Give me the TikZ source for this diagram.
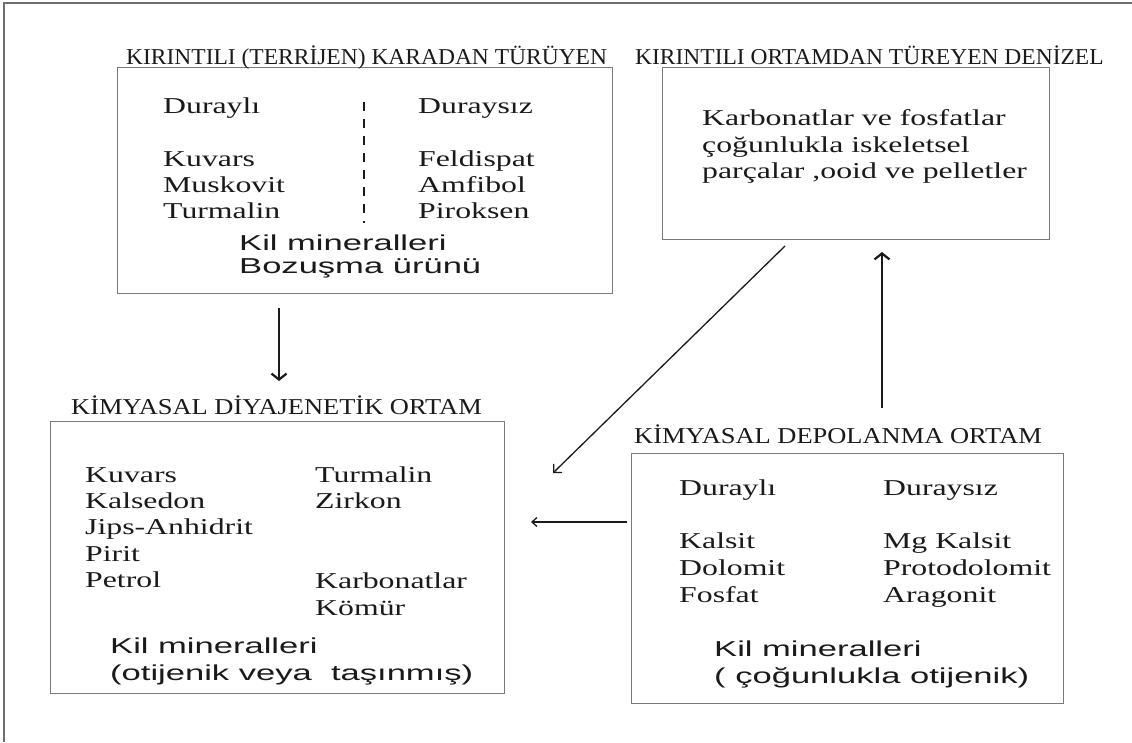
\documentclass[tikz,border=0pt]{standalone}
\usepackage{fontspec}
\usepackage{graphicx}
\setmainfont{Liberation Serif}
\newfontfamily\bodyf[FakeStretch=1.4]{Liberation Serif}
\newfontfamily\sansf[FakeStretch=1.6]{Liberation Sans}
\newfontfamily\titA[FakeStretch=1.035]{Liberation Serif}
\newfontfamily\titB[FakeStretch=1.165]{Liberation Serif}
\usetikzlibrary{arrows.meta}
\definecolor{boxgray}{HTML}{7A7A7A}
\definecolor{framegray}{HTML}{6E6E6E}
\definecolor{ink}{HTML}{1A1A1A}
\begin{document}
\begin{tikzpicture}[x=1pt,y=-1pt,
  box/.style={draw=boxgray, line width=1.4pt, inner sep=0pt, anchor=north west},
  txt/.style={anchor=base west, inner sep=0pt, text=ink, font=\bodyf\fontsize{22.7}{26}\selectfont},
  stxt/.style={anchor=base west, inner sep=0pt, text=ink, font=\sansf\fontsize{21.6}{26}\selectfont},
  ttlA/.style={anchor=base west, inner sep=0pt, text=ink, font=\titA\fontsize{22.7}{26}\selectfont},
  ttlB/.style={anchor=base west, inner sep=0pt, text=ink, font=\titB\fontsize{22.7}{26}\selectfont},
  heavyarrow/.style={draw=ink, line width=2.2pt, -{Straight Barb[length=6pt,width=15pt]}},
  lightarrow/.style={draw=ink, line width=1.3pt, -{Straight Barb[length=6pt,width=12pt]}},
  dashline/.style={draw=ink, line width=2pt, dash pattern=on 9pt off 8pt}
]
\useasboundingbox (0,0) rectangle (1132,742);
\fill[white] (0,0) rectangle (1132,742);
% outer frame (top and left only)
\draw[framegray, line width=1.5pt] (4,742) -- (4,3) -- (1132,3);

% boxes
\node[box, minimum width=495pt, minimum height=226pt] (b1) at (117,67) {};
\node[box, minimum width=387pt, minimum height=172pt] (b2) at (662,67) {};
\node[box, minimum width=454pt, minimum height=272pt] (b3) at (50,421) {};
\node[box, minimum width=432pt, minimum height=250pt] (b4) at (631,453) {};

% titles
\node[ttlA] (t1) at (126,64) {KIRINTILI (TERRİJEN) KARADAN TÜRÜYEN};
\node[ttlA] (t2) at (635,64) {KIRINTILI ORTAMDAN TÜREYEN DENİZEL};
\node[ttlB] (t3) at (71,414) {KİMYASAL DİYAJENETİK ORTAM};
\node[ttlB] (t4) at (634,443) {KİMYASAL DEPOLANMA ORTAM};

% box 1 content
\node[txt] (b1a) at (163,113) {Duraylı};
\node[txt] (b1b) at (418,113) {Duraysız};
\node[txt] (b1c) at (163,166) {Kuvars};
\node[txt] (b1d) at (163,192) {Muskovit};
\node[txt] (b1e) at (163,218) {Turmalin};
\node[txt] (b1f) at (418,166) {Feldispat};
\node[txt] (b1g) at (418,192) {Amfibol};
\node[txt] (b1h) at (418,218) {Piroksen};
\draw[dashline] (364,102) -- (364,223);
\node[stxt] (b1i) at (239,250) {Kil mineralleri};
\node[stxt] (b1j) at (239,273) {Bozuşma ürünü};

% box 2 content
\node[txt] (b2a) at (702,125) {Karbonatlar ve fosfatlar};
\node[txt] (b2b) at (702,152) {çoğunlukla iskeletsel};
\node[txt] (b2c) at (702,178) {parçalar ,ooid ve pelletler};

% box 3 content
\node[txt] (b3a) at (85,482) {Kuvars};
\node[txt] (b3b) at (85,508) {Kalsedon};
\node[txt] (b3c) at (85,534) {Jips-Anhidrit};
\node[txt] (b3d) at (85,561) {Pirit};
\node[txt] (b3e) at (85,587) {Petrol};
\node[txt] (b3f) at (315,482) {Turmalin};
\node[txt] (b3g) at (315,508) {Zirkon};
\node[txt] (b3h) at (315,588) {Karbonatlar};
\node[txt] (b3i) at (315,615) {Kömür};
\node[stxt] (b3j) at (110,653) {Kil mineralleri};
\node[stxt] (b3k) at (110,680) {(otijenik veya\ \ taşınmış)};

% box 4 content
\node[txt] (b4a) at (679,495) {Duraylı};
\node[txt] (b4b) at (883,495) {Duraysız};
\node[txt] (b4c) at (679,548) {Kalsit};
\node[txt] (b4d) at (679,575) {Dolomit};
\node[txt] (b4e) at (679,602) {Fosfat};
\node[txt] (b4f) at (883,548) {Mg Kalsit};
\node[txt] (b4g) at (883,575) {Protodolomit};
\node[txt] (b4h) at (883,602) {Aragonit};
\node[stxt] (b4i) at (714,656) {Kil mineralleri};
\node[stxt] (b4j) at (714,683) {( çoğunlukla otijenik)};

% arrows
\coordinate (a1s) at (279,308);
\coordinate (a1e) at (279,381);
\coordinate (a2s) at (785,246);
\coordinate (a2e) at (553,473);
\coordinate (a3s) at (882,408);
\coordinate (a3e) at (882,252);
\coordinate (a4s) at (627,522);
\coordinate (a4e) at (531,522);
\draw[heavyarrow] (a1s) -- (a1e);
\draw[lightarrow] (a2s) -- (a2e);
\draw[heavyarrow] (a3s) -- (a3e);
\draw[lightarrow, -{Straight Barb[length=5pt,width=9pt]}] (a4s) -- (a4e);
\end{tikzpicture}
\end{document}
